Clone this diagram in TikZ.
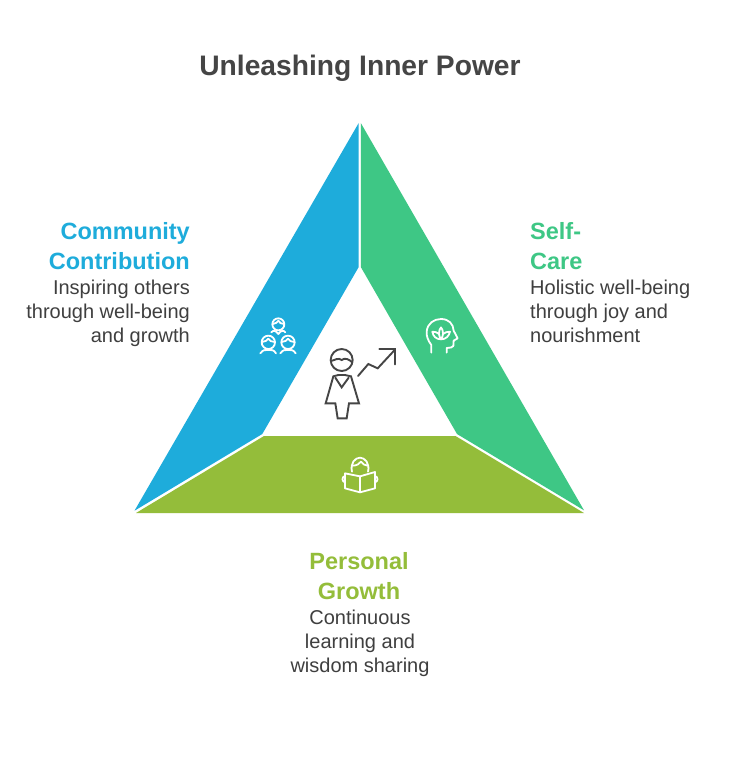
\documentclass[tikz,border=0pt]{standalone}
\usepackage{fontspec}
\setmainfont{Liberation Sans}
\definecolor{cblue}{HTML}{1EACDB}
\definecolor{cgreen}{HTML}{3EC785}
\definecolor{colive}{HTML}{94BD3A}
\definecolor{ctext}{HTML}{3F3F3F}
\definecolor{cicon}{HTML}{454545}
\tikzset{
  titletext/.style={font=\bfseries\fontsize{28.2}{34}\selectfont,text=cicon,inner sep=0pt,anchor=base},
  headtext/.style={font=\bfseries\fontsize{23.5}{30}\selectfont,inner sep=0pt},
  bodytext/.style={font=\fontsize{20}{24}\selectfont,text=ctext,inner sep=0pt},
  panel/.style={draw=none},
  whiteicon/.style={draw=white,line width=1.8pt,line cap=round,line join=round},
  darkicon/.style={draw=cicon,line width=1.9pt,line cap=round,line join=miter},
  zoomed/.style={shift={(250,300)},x=0.33333pt,y=-0.33333pt}
}
\begin{document}
\begin{tikzpicture}[x=1pt,y=-1pt]
\useasboundingbox (0,0) rectangle (732,774);
\fill[white] (0,0) rectangle (732,774);
% panels
\fill[panel,cblue] (358.7,123) -- (358.7,267) -- (262.3,434) -- (134.5,510.7) -- cycle;
\fill[panel,cgreen] (360.8,123) -- (360.8,267) -- (457,434) -- (584,510.3) -- cycle;
\fill[panel,colive] (136,513) -- (264,436) -- (455.5,436) -- (584,513) -- cycle;
% texts
\node[titletext] (title) at (360,75) {Unleashing Inner Power};
\node[headtext,text=cblue,anchor=base east] (c1) at (190,239) {Community};
\node[headtext,text=cblue,anchor=base east] (c2) at (190,269) {Contribution};
\node[bodytext,anchor=base east] (c3) at (190,294.5) {Inspiring others};
\node[bodytext,anchor=base east] (c4) at (190,318.5) {through well-being};
\node[bodytext,anchor=base east] (c5) at (190,342.5) {and growth};
\node[headtext,text=cgreen,anchor=base west] (s1) at (530,239) {Self-};
\node[headtext,text=cgreen,anchor=base west] (s2) at (530,269) {Care};
\node[bodytext,anchor=base west] (s3) at (530,294.5) {Holistic well-being};
\node[bodytext,anchor=base west] (s4) at (530,318.5) {through joy and};
\node[bodytext,anchor=base west] (s5) at (530,342.5) {nourishment};
\node[headtext,text=colive,anchor=base] (p1) at (359,569) {Personal};
\node[headtext,text=colive,anchor=base] (p2) at (359,599) {Growth};
\node[bodytext,anchor=base] (p3) at (360,624.5) {Continuous};
\node[bodytext,anchor=base] (p4) at (360,648.5) {learning and};
\node[bodytext,anchor=base] (p5) at (360,672.5) {wisdom sharing};
% centre icon
\begin{scope}[zoomed]
\draw[darkicon] (275,180) circle (33);
\draw[darkicon] (243,183) .. controls (255,180) and (265,172) .. (275,180) .. controls (285,172) and (297,178) .. (307,187);
\draw[darkicon] (250,229) -- (227,310) -- (256,310) -- (263,355) -- (290,355) -- (297,310) -- (327,310) -- (303,229) -- (285,225) -- (265,225) -- cycle;
\draw[darkicon] (256,233) -- (275,262) -- (296,233);
\draw[darkicon] (324,228) -- (355,192) -- (383,205) -- (434,150);
\draw[darkicon] (388,148) -- (435,148) -- (435,193);
% community icon
\draw[whiteicon] (85,73) circle (18);
\draw[whiteicon] (68,72) .. controls (78,72) and (82,66) .. (85,62) .. controls (88,68) and (94,72) .. (102,72);
\draw[whiteicon] (64,97) .. controls (70,90) and (76,90) .. (85,102) .. controls (94,90) and (100,90) .. (106,97);
\draw[whiteicon] (55,127) circle (20);
\draw[whiteicon] (36,126) .. controls (46,126) and (52,120) .. (55,116) .. controls (58,122) and (65,126) .. (74,126);
\draw[whiteicon] (31,160) .. controls (38,150) and (46,148) .. (55,150) .. controls (64,148) and (72,150) .. (78,160);
\draw[whiteicon] (114,127) circle (20);
\draw[whiteicon] (95,126) .. controls (105,126) and (111,120) .. (114,116) .. controls (117,122) and (124,126) .. (133,126);
\draw[whiteicon] (91,160) .. controls (98,150) and (106,148) .. (114,150) .. controls (123,148) and (131,150) .. (137,160);
% lotus head icon
\draw[whiteicon] (544,158) -- (544,135) .. controls (534,122) and (529,108) .. (530,95) .. controls (532,70) and (552,57) .. (573,57) .. controls (597,57) and (610,72) .. (611,92) -- (623,115) -- (611,122) -- (610,138) .. controls (608,143) and (600,143) .. (590,144) -- (590,158);
\draw[whiteicon] (573,82) .. controls (565,92) and (565,108) .. (573,118) .. controls (581,108) and (581,92) .. (573,82);
\draw[whiteicon] (573,118) .. controls (558,118) and (549,108) .. (547,95) .. controls (555,95) and (562,97) .. (567,102);
\draw[whiteicon] (573,118) .. controls (588,118) and (597,108) .. (600,95) .. controls (592,95) and (584,97) .. (579,102);
% book icon
\draw[whiteicon] (306,515) .. controls (300,490) and (315,473) .. (330,473) .. controls (345,473) and (360,490) .. (354,515);
\draw[whiteicon] (307,497) .. controls (320,497) and (328,492) .. (333,485) .. controls (338,492) and (345,497) .. (353,497);
\draw[whiteicon] (285,520) -- (330,529) -- (375,516) -- (375,565) -- (330,577) -- (285,565) -- cycle;
\draw[whiteicon] (330,529) -- (330,577);
\draw[whiteicon] (285,528) .. controls (275,530) and (275,545) .. (285,547);
\draw[whiteicon] (375,528) .. controls (385,530) and (385,545) .. (375,547);
\end{scope}
\end{tikzpicture}
\end{document}
